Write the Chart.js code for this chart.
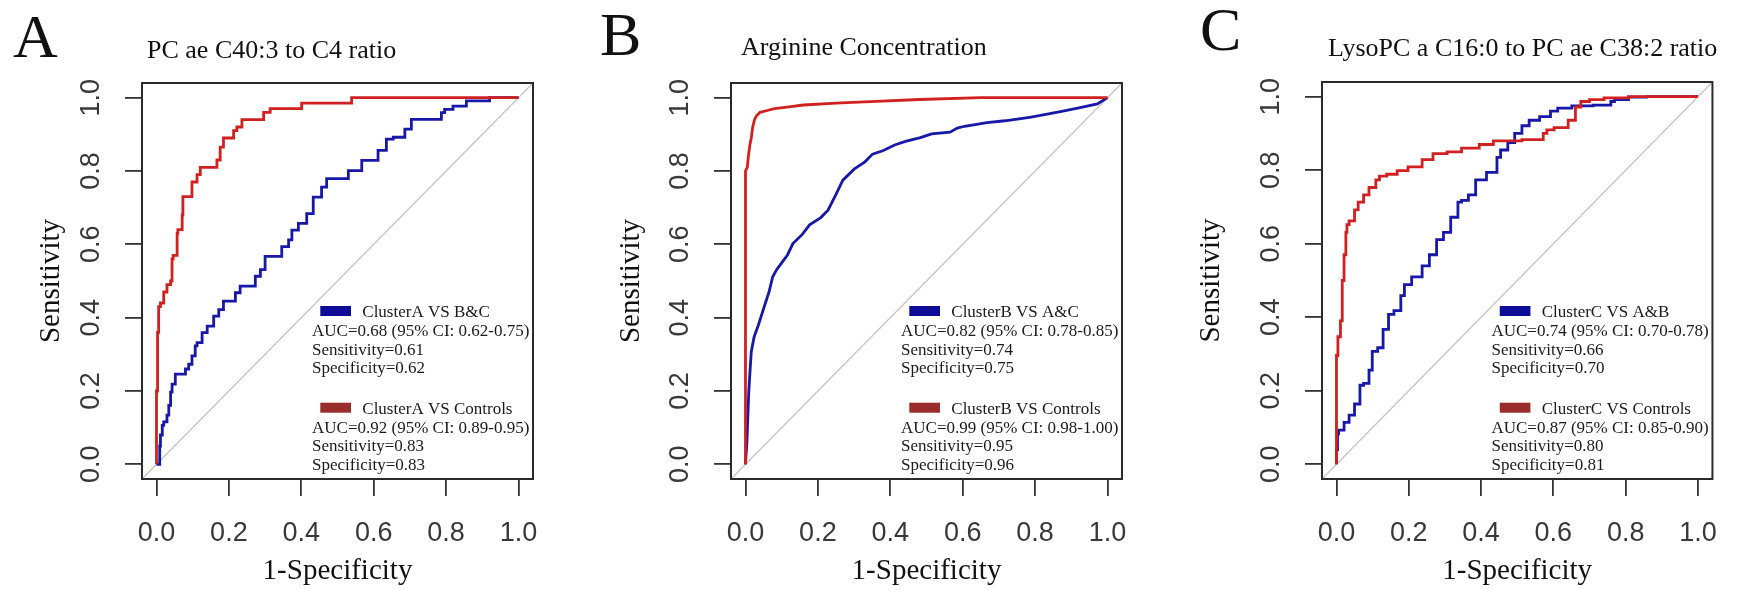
<!DOCTYPE html>
<html><head><meta charset="utf-8">
<script src="https://cdn.jsdelivr.net/npm/chart.js@4.4.1/dist/chart.umd.min.js"></script>
<style>
html,body{margin:0;padding:0;background:#fff;}
#wrap{position:relative;width:1738px;height:590px;overflow:hidden;background:#fff;}
.pan{position:absolute;top:0;height:590px;}
</style></head><body>
<div id="wrap">
<div class="pan" style="left:0;width:580px"><canvas id="cA" width="580" height="590"></canvas></div>
<div class="pan" style="left:580px;width:580px"><canvas id="cB" width="580" height="590"></canvas></div>
<div class="pan" style="left:1160px;width:578px"><canvas id="cC" width="578" height="590"></canvas></div>
</div>
<script>
// ---- tick data ----
const tickValues = [0, 0.2, 0.4, 0.6, 0.8, 1.0];
const tickLabels = ['0.0', '0.2', '0.4', '0.6', '0.8', '1.0'];
const diagX = [-0.04, 1.04];
const diagY = [-0.04, 1.04];

// ---- panel text ----
const panelLetters = ['A', 'B', 'C'];
const panelTitles = ['PC ae C40:3 to C4 ratio', 'Arginine Concentration', 'LysoPC a C16:0 to PC ae C38:2 ratio'];

// ---- Panel A series (1-Specificity, Sensitivity) ----
const aRedFpr = [0,0,0.003,0.006,0.011,0.02,0.029,0.039,0.043,0.046,0.057,0.059,0.071,0.073,0.084,0.098,0.112,0.121,0.135,0.167,0.176,0.185,0.19,0.213,0.222,0.236,0.241,0.296,0.314,0.323,0.401,0.406,0.539,0.544,1];
const aRedTpr = [0,0.15,0.2,0.36,0.43,0.44,0.47,0.49,0.50,0.56,0.57,0.63,0.64,0.68,0.73,0.73,0.77,0.79,0.81,0.81,0.83,0.865,0.89,0.89,0.91,0.92,0.94,0.94,0.96,0.97,0.97,0.985,0.985,1,1];
const aBlueFpr = [0,0.009,0.011,0.016,0.02,0.029,0.034,0.039,0.043,0.052,0.057,0.08,0.089,0.098,0.107,0.112,0.126,0.14,0.158,0.172,0.185,0.199,0.218,0.231,0.245,0.273,0.287,0.30,0.314,0.346,0.365,0.374,0.392,0.415,0.433,0.447,0.456,0.47,0.489,0.53,0.544,0.567,0.612,0.635,0.654,0.686,0.704,0.718,0.787,0.796,0.819,0.856,0.86,0.92,0.92,1];
const aBlueTpr = [0,0,0.05,0.08,0.106,0.116,0.134,0.161,0.197,0.219,0.246,0.246,0.26,0.273,0.296,0.323,0.332,0.359,0.377,0.404,0.422,0.445,0.445,0.468,0.486,0.486,0.513,0.531,0.567,0.567,0.594,0.612,0.639,0.657,0.684,0.729,0.729,0.756,0.779,0.779,0.801,0.801,0.829,0.856,0.887,0.892,0.914,0.941,0.941,0.959,0.968,0.977,0.991,0.991,1.0,1];
const aBlueLegend = ['ClusterA VS B&C', 'AUC=0.68 (95% CI: 0.62-0.75)', 'Sensitivity=0.61', 'Specificity=0.62'];
const aRedLegend = ['ClusterA VS Controls', 'AUC=0.92 (95% CI: 0.89-0.95)', 'Sensitivity=0.83', 'Specificity=0.83'];

// ---- Panel B series ----
const bRedFpr = [0,0,0.005,0.008,0.012,0.016,0.02,0.025,0.03,0.04,0.06,0.08,0.12,0.16,0.25,0.36,0.48,0.65,1];
const bRedTpr = [0,0.80,0.81,0.84,0.87,0.89,0.92,0.94,0.95,0.96,0.965,0.97,0.975,0.98,0.985,0.99,0.995,1,1];
const bBlueFpr = [0,0.004,0.009,0.012,0.016,0.024,0.035,0.045,0.055,0.065,0.075,0.086,0.101,0.116,0.131,0.157,0.177,0.208,0.228,0.249,0.269,0.30,0.33,0.351,0.381,0.412,0.442,0.483,0.514,0.565,0.585,0.605,0.667,0.717,0.789,0.87,0.921,0.972,1];
const bBlueTpr = [0,0.064,0.196,0.246,0.307,0.348,0.378,0.409,0.44,0.47,0.511,0.531,0.551,0.571,0.602,0.627,0.653,0.673,0.693,0.734,0.775,0.805,0.825,0.846,0.856,0.871,0.881,0.891,0.901,0.906,0.917,0.922,0.932,0.937,0.947,0.962,0.972,0.983,1];
const bBlueLegend = ['ClusterB VS A&C', 'AUC=0.82 (95% CI: 0.78-0.85)', 'Sensitivity=0.74', 'Specificity=0.75'];
const bRedLegend = ['ClusterB VS Controls', 'AUC=0.99 (95% CI: 0.98-1.00)', 'Sensitivity=0.95', 'Specificity=0.96'];

// ---- Panel C series ----
const cRedFpr = [0,0,0.004,0.011,0.016,0.021,0.026,0.029,0.035,0.05,0.06,0.075,0.09,0.109,0.119,0.139,0.168,0.198,0.237,0.267,0.306,0.346,0.395,0.434,0.464,0.513,0.552,0.572,0.582,0.602,0.641,0.661,0.676,0.70,0.74,0.808,0.858,1];
const cRedTpr = [0,0.246,0.296,0.347,0.39,0.5,0.57,0.631,0.652,0.662,0.692,0.713,0.733,0.753,0.774,0.784,0.789,0.799,0.809,0.829,0.845,0.85,0.86,0.87,0.88,0.88,0.883,0.883,0.90,0.91,0.916,0.936,0.972,0.987,0.992,0.997,1,1];
const cBlueFpr = [0,0.003,0.006,0.021,0.035,0.05,0.065,0.075,0.09,0.099,0.114,0.129,0.144,0.159,0.178,0.188,0.208,0.237,0.257,0.277,0.296,0.316,0.336,0.346,0.365,0.385,0.415,0.444,0.454,0.474,0.493,0.513,0.533,0.562,0.592,0.612,0.651,0.71,0.759,0.769,0.808,0.858,1];
const cBlueTpr = [0,0.04,0.083,0.093,0.114,0.134,0.164,0.215,0.22,0.256,0.307,0.317,0.367,0.408,0.418,0.459,0.489,0.51,0.54,0.57,0.611,0.631,0.672,0.713,0.718,0.733,0.774,0.794,0.835,0.855,0.875,0.9,0.921,0.936,0.946,0.961,0.969,0.975,0.977,0.987,0.992,0.999,1];
const cBlueLegend = ['ClusterC VS A&B', 'AUC=0.74 (95% CI: 0.70-0.78)', 'Sensitivity=0.66', 'Specificity=0.70'];
const cRedLegend = ['ClusterC VS Controls', 'AUC=0.87 (95% CI: 0.85-0.90)', 'Sensitivity=0.80', 'Specificity=0.81'];

// ---- styling ----
const RED = '#d02020', BLUE = '#1717a8', RED_SW = '#9a2c2c', BLUE_SW = '#0c0c96';
const SERIF = "'Liberation Serif', 'Times New Roman', serif";
const SANS = "'Liberation Sans', Arial, sans-serif";

const pts = (xs, ys) => xs.map((x, i) => ({x: x, y: ys[i]}));

const boxPlugin = {
  id: 'rbox',
  afterDatasetsDraw(chart) {
    const ca = chart.chartArea, ctx = chart.ctx;
    ctx.save();
    ctx.strokeStyle = '#2a2a2a';
    ctx.lineWidth = 2;
    ctx.strokeRect(ca.left, ca.top, ca.right - ca.left, ca.bottom - ca.top);
    ctx.restore();
  }
};

const annotPlugin = {
  id: 'annot',
  afterDraw(chart, args, o) {
    const ctx = chart.ctx, ca = chart.chartArea;
    ctx.save();
    ctx.textAlign = 'left';
    ctx.textBaseline = 'alphabetic';
    ctx.fillStyle = '#111';
    ctx.font = '62px ' + SERIF;
    ctx.fillText(o.letter, o.lx, o.ly);
    ctx.font = '26px ' + SERIF;
    ctx.fillText(o.title, o.tx, o.ty);
    ctx.font = '17px ' + SERIF;
    const x0 = ca.right - 221;
    const groups = [[o.blueLegend, BLUE_SW, ca.bottom - 162], [o.redLegend, RED_SW, ca.bottom - 65.3]];
    for (const g of groups) {
      const lines = g[0], by = g[2];
      ctx.fillStyle = g[1];
      ctx.fillRect(x0 + 8.3, by - 11, 30.7, 10);
      ctx.fillStyle = '#1a1a1a';
      ctx.fillText(lines[0], x0 + 50.3, by);
      for (let i = 1; i < lines.length; i++) ctx.fillText(lines[i], x0, by + 19.3 + (i - 1) * 18.3);
    }
    ctx.restore();
  }
};

function axisCommon(extra) {
  return Object.assign({
    type: 'linear', min: -0.04, max: 1.04,
    afterBuildTicks: s => { s.ticks = tickValues.map(v => ({value: v})); },
    grid: {display: true, drawOnChartArea: false, drawTicks: true, tickLength: 17, color: '#333', lineWidth: 1.8},
    border: {display: false}
  }, extra);
}

function makeChart(id, idx, series, legends, lay, stepped) {
  const ctx = document.getElementById(id);
  return new Chart(ctx, {
    type: 'line',
    data: {
      datasets: [
        {data: pts(series[0], series[1]), borderColor: RED, borderWidth: 2.8, pointRadius: 0, tension: 0, stepped: stepped},
        {data: pts(series[2], series[3]), borderColor: BLUE, borderWidth: 2.8, pointRadius: 0, tension: 0, stepped: stepped},
        {data: pts(diagX, diagY), borderColor: '#c4c4c4', borderWidth: 1.3, pointRadius: 0, tension: 0}
      ]
    },
    options: {
      responsive: false,
      animation: false,
      events: [],
      layout: {autoPadding: false, padding: {left: 0, top: lay.top, right: lay.right, bottom: 0}},
      scales: {
        x: axisCommon({
          position: 'bottom',
          afterFit: s => { s.height = 590 - lay.bottom; },
          ticks: {autoSkip: false, maxRotation: 0, minRotation: 0, padding: 21, color: '#383838',
                  font: {family: SANS, size: 27}, callback: (v, i) => tickLabels[i]},
          title: {display: true, text: '1-Specificity', color: '#111',
                  font: {family: SERIF, size: 29, lineHeight: 1}, padding: {top: 0, bottom: 4}}
        }),
        y: axisCommon({
          position: 'left',
          afterFit: s => { s.width = lay.left; },
          ticks: {autoSkip: false, minRotation: 90, maxRotation: 90, crossAlign: 'center', padding: 15, color: '#383838',
                  font: {family: SANS, size: 27}, callback: (v, i) => tickLabels[i]},
          title: {display: true, text: 'Sensitivity', color: '#111',
                  font: {family: SERIF, size: 29, lineHeight: 1}, padding: {top: 37, bottom: 0}}
        })
      },
      plugins: {
        legend: {display: false},
        tooltip: {enabled: false},
        annot: {letter: panelLetters[idx], title: panelTitles[idx], lx: lay.lx, ly: lay.ly, tx: lay.tx, ty: lay.ty,
                blueLegend: legends[0], redLegend: legends[1]}
      }
    },
    plugins: [boxPlugin, annotPlugin]
  });
}

makeChart('cA', 0, [aRedFpr, aRedTpr, aBlueFpr, aBlueTpr], [aBlueLegend, aRedLegend],
  {left: 142, top: 83, right: 47, bottom: 479, lx: 13, ly: 57, tx: 147, ty: 58}, 'after');
makeChart('cB', 1, [bRedFpr, bRedTpr, bBlueFpr, bBlueTpr], [bBlueLegend, bRedLegend],
  {left: 151, top: 83, right: 38, bottom: 479, lx: 20, ly: 55, tx: 161, ty: 55}, false);
makeChart('cC', 2, [cRedFpr, cRedTpr, cBlueFpr, cBlueTpr], [cBlueLegend, cRedLegend],
  {left: 162, top: 82, right: 7, bottom: 479, lx: 40, ly: 50, tx: 168, ty: 56}, 'after');
</script>
</body></html>
